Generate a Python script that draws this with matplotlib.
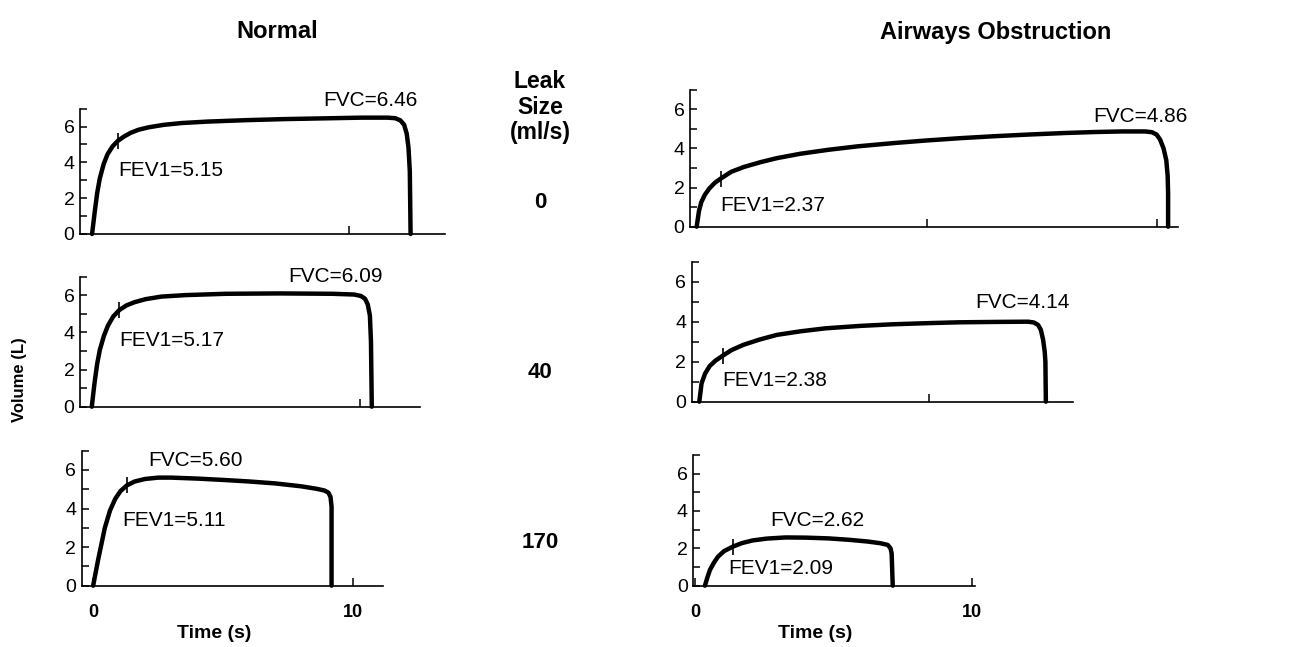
import numpy as np
import matplotlib.pyplot as plt
from matplotlib.ticker import MultipleLocator

plt.rcParams['font.family'] = ['Liberation Sans', 'DejaVu Sans']

# define data (time in s, volume in L)
tl_t = [0, 0.1, 0.2, 0.3, 0.45, 0.6, 0.8, 1.0, 1.25, 1.5, 1.8, 2.2, 2.8, 3.5, 4.5, 6, 7.5, 9,
        10.5, 11.5, 11.8, 12.0, 12.15, 12.25, 12.32, 12.37, 12.4]
tl_v = [0, 1.2, 2.3, 3.1, 3.9, 4.45, 4.9, 5.2, 5.45, 5.65, 5.82, 5.96, 6.1, 6.2, 6.28, 6.36, 6.42, 6.46,
        6.5, 6.5, 6.47, 6.35, 6.1, 5.6, 4.8, 3.5, 0]

ml_t = [0, 0.1, 0.2, 0.3, 0.45, 0.6, 0.8, 1.03, 1.3, 1.6, 2.0, 2.6, 3.5, 5, 7, 9, 9.8, 10.05,
        10.2, 10.3, 10.38, 10.42, 10.45]
ml_v = [0, 1.25, 2.3, 3.05, 3.8, 4.35, 4.85, 5.2, 5.45, 5.62, 5.78, 5.92, 6.0, 6.07, 6.09, 6.07, 6.03, 5.95,
        5.8, 5.5, 4.9, 3.5, 0]

bl_t = [0, 0.19, 0.45, 0.65, 0.85, 1.05, 1.3, 1.6, 2.0, 2.5, 3.0, 4, 5, 6, 7, 8, 8.6, 8.9,
        9.05, 9.13, 9.17, 9.17]
bl_v = [0, 1.33, 3.0, 3.9, 4.5, 4.9, 5.2, 5.4, 5.53, 5.6, 5.6, 5.55, 5.48, 5.4, 5.3, 5.15, 5.02, 4.93,
        4.82, 4.6, 4.1, 0]

tr_t = [0, 0.1, 0.2, 0.35, 0.55, 0.8, 1.04, 1.5, 2.06, 2.8, 3.5, 4.5, 5.7, 7, 8.6, 10, 11.5, 13,
        14.4, 16, 17.3, 18.5, 19.5, 19.8, 20.0, 20.15, 20.3, 20.42, 20.48, 20.5, 20.5]
tr_v = [0, 0.8, 1.25, 1.62, 1.95, 2.25, 2.45, 2.8, 3.05, 3.3, 3.5, 3.72, 3.92, 4.1, 4.27, 4.4, 4.52, 4.62,
        4.7, 4.78, 4.83, 4.86, 4.86, 4.82, 4.7, 4.45, 4.0, 3.4, 2.6, 1.7, 0]

mr_t = [0, 0.1, 0.25, 0.45, 0.7, 1.02, 1.4, 1.91, 2.6, 3.37, 4.4, 5.5, 7, 8.4, 10, 11.3, 13, 14.3,
        14.55, 14.73, 14.85, 14.95, 15.02, 15.05, 15.07]
mr_v = [0, 0.92, 1.4, 1.78, 2.05, 2.3, 2.58, 2.84, 3.1, 3.34, 3.52, 3.67, 3.79, 3.87, 3.93, 3.97, 3.99, 4.0,
        3.96, 3.84, 3.6, 3.1, 2.5, 2.0, 0]

br_t = [0.36, 0.45, 0.54, 0.68, 0.83, 1.05, 1.37, 1.7, 2.08, 2.6, 3.27, 4.0, 4.82, 5.6, 6.25, 6.7,
        6.96, 7.06, 7.1, 7.14]
br_v = [0, 0.45, 0.84, 1.22, 1.55, 1.85, 2.09, 2.28, 2.42, 2.52, 2.58, 2.57, 2.53, 2.45, 2.36, 2.27,
        2.18, 2.0, 1.73, 0]

fev1_t = [1.0, 1.03, 1.22, 1.04, 1.02, 1.37]
fev1_labels = ['FEV1=5.15', 'FEV1=5.17', 'FEV1=5.11', 'FEV1=2.37', 'FEV1=2.38', 'FEV1=2.09']
fvc_labels = ['FVC=6.46', 'FVC=6.09', 'FVC=5.60', 'FVC=4.86', 'FVC=4.14', 'FVC=2.62']
leak_sizes = ['0', '40', '170']

curves = [(tl_t, tl_v), (ml_t, ml_v), (bl_t, bl_v), (tr_t, tr_v), (mr_t, mr_v), (br_t, br_v)]

W, H = 1297, 647
fig = plt.figure(figsize=(W / 100, H / 100), dpi=100)


def fx(x):
    return x / W


def fy(y):
    return 1 - y / H


# panel boxes in pixels: left, right, top, bottom and the x range
boxes = [
    (80, 445, 108.7, 234, (-0.47, 13.74)),
    (80, 420, 276.5, 406.7, (-0.44, 12.25)),
    (81.7, 383.3, 450.6, 585.7, (-0.44, 11.16)),
    (690, 1178, 89.5, 226.7, (-0.29, 20.93)),
    (691.7, 1073, 261.7, 401.7, (-0.33, 16.25)),
    (693.3, 975, 454.8, 585.7, (-0.06, 10.11)),
]
# label positions in pixels (left edge, vertical centre)
fev1_pos = [(118, 170), (119, 340), (122, 520), (720, 205), (722, 380), (728, 568)]
fvc_pos = [(323, 100), (288, 277), (148, 460), (1093, 116), (975, 303), (770, 520)]

for i, (t, v) in enumerate(curves):
    left, right, top, bottom, xr = boxes[i]
    ax = fig.add_axes([fx(left), fy(bottom), fx(right - left), (bottom - top) / H])
    ax.plot(t, v, color='black', lw=3.2, solid_capstyle='round', solid_joinstyle='round', clip_on=False)

    # FEV1 mark on the trace (nearest read point)
    k = int(np.argmin(np.abs(np.array(t) - fev1_t[i])))
    ax.plot([t[k]], [v[k]], marker='|', color='black', ms=11, mew=1.2, clip_on=False)

    ax.set_xlim(*xr)
    ax.set_ylim(0, 7)
    for s in ['top', 'right']:
        ax.spines[s].set_visible(False)
    for s in ['left', 'bottom']:
        ax.spines[s].set_linewidth(1.2)
    ax.set_yticks([0, 2, 4, 6])
    ax.yaxis.set_minor_locator(MultipleLocator(1))
    ax.tick_params(axis='y', which='both', direction='in', length=5, width=1.1, labelsize=14, pad=4)
    if i == 3:
        ax.set_xticks([10, 20])
    elif i in (2, 5):
        ax.set_xticks([0, 10])
    else:
        ax.set_xticks([10])
    ax.tick_params(axis='x', direction='in', length=6, width=1.1, labelsize=13, pad=13)
    if i in (2, 5):
        for lab in ax.get_xticklabels():
            lab.set_fontweight('bold')
    else:
        ax.set_xticklabels([])
    ax.patch.set_alpha(0)

    fig.text(fx(fev1_pos[i][0]), fy(fev1_pos[i][1]), fev1_labels[i], fontsize=15, ha='left', va='center')
    fig.text(fx(fvc_pos[i][0]), fy(fvc_pos[i][1]), fvc_labels[i], fontsize=15, ha='left', va='center')

# titles and side texts
fig.text(fx(277), fy(32), 'Normal', fontsize=17, fontweight='bold', ha='center', va='center')
fig.text(fx(996), fy(32), 'Airways Obstruction', fontsize=17, fontweight='bold', ha='center', va='center')
fig.text(fx(540), fy(107), 'Leak\nSize\n(ml/s)', fontsize=16.5, fontweight='bold', ha='center', va='center',
         linespacing=1.15)
for lab, y in zip(leak_sizes, [202, 373, 542]):
    fig.text(fx(540), fy(y), lab, fontsize=16, fontweight='bold', ha='center', va='center')
fig.text(fx(20), fy(380), 'Volume (L)', fontsize=12, fontweight='bold', rotation=90, ha='center', va='center')
fig.text(fx(214), fy(634), 'Time (s)', fontsize=14, fontweight='bold', ha='center', va='center')
fig.text(fx(815), fy(634), 'Time (s)', fontsize=14, fontweight='bold', ha='center', va='center')

fig.savefig('out.png', dpi=100)
